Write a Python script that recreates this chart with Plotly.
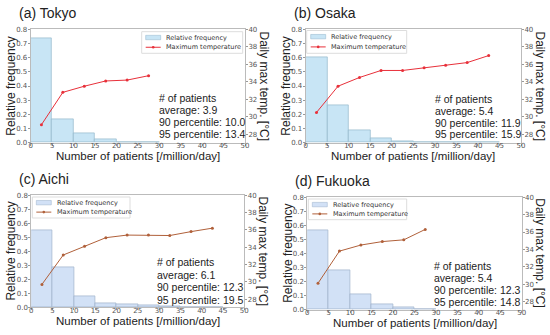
import plotly.graph_objects as go

bin_centers = [2.5, 7.5, 12.5, 17.5, 22.5, 27.5, 32.5, 37.5, 42.5]

tokyo_freq = [0.74, 0.165, 0.065, 0.025, 0.006, 0.003]
tokyo_temp = [29.1, 32.8, 33.5, 34.1, 34.2, 34.7]
osaka_freq = [0.60, 0.265, 0.085, 0.032, 0.013, 0.006, 0.002, 0.001, 0.001]
osaka_temp = [30.5, 33.5, 34.5, 35.3, 35.3, 35.6, 35.9, 36.2, 37.0]
aichi_freq = [0.55, 0.285, 0.08, 0.032, 0.022, 0.012, 0.004, 0.002, 0.001]
aichi_temp = [29.7, 33.1, 34.1, 35.1, 35.4, 35.4, 35.35, 35.8, 36.2]
fukuoka_freq = [0.565, 0.28, 0.11, 0.035, 0.015, 0.003]
fukuoka_temp = [30.1, 33.8, 34.5, 34.9, 35.1, 36.3]

titles = ["(a) Tokyo", "(b) Osaka", "(c) Aichi", "(d) Fukuoka"]
stats = [("3.9", "10.0", "13.4"), ("5.4", "11.9", "15.9"),
         ("6.1", "12.3", "19.5"), ("5.4", "12.3", "14.8")]
x_ticks = [0, 5, 10, 15, 20, 25, 30, 35, 40, 45, 50]
y_ticks = [0.0, 0.1, 0.2, 0.3, 0.4, 0.5, 0.6, 0.7, 0.8]
t_ticks = [28, 30, 32, 34, 36, 38, 40]

W, H = 550, 335


def px(x):
    return x / W


def py(y):
    return 1 - y / H


# plot areas in pixels: left, right, top, bottom
panels = [
    dict(freq=tokyo_freq, temp=tokyo_temp, box=(30.7, 245.0, 29.3, 142.7),
         bar="rgba(190,225,243,0.85)", barline="rgba(150,185,205,0.9)", line="#e8303a",
         leg=(141.7, 242.7, 31.7, 53.3), stat=(157, 97.7, 134.0)),
    dict(freq=osaka_freq, temp=osaka_temp, box=(305.7, 521.0, 29.3, 142.7),
         bar="rgba(190,225,243,0.85)", barline="rgba(150,185,205,0.9)", line="#e8303a",
         leg=(306.7, 406.7, 30.5, 53.3), stat=(433, 99.0, 134.3)),
    dict(freq=aichi_freq, temp=aichi_temp, box=(31.3, 244.3, 195.3, 307.3),
         bar="rgba(205,222,245,0.9)", barline="rgba(160,180,205,0.9)", line="#b0603a",
         leg=(32.3, 130.0, 197.0, 218.0), stat=(155, 262.3, 299.7)),
    dict(freq=fukuoka_freq, temp=fukuoka_temp, box=(307.3, 521.7, 197.3, 309.7),
         bar="rgba(205,222,245,0.9)", barline="rgba(160,180,205,0.9)", line="#b0603a",
         leg=(308.3, 406.7, 199.0, 219.7), stat=(432, 265.7, 302.3)),
]

fig = go.Figure()
layout = dict(width=W, height=H, margin=dict(l=0, r=0, t=0, b=0, autoexpand=False),
              plot_bgcolor="white", paper_bgcolor="white", showlegend=False,
              bargap=0, annotations=[], shapes=[])
tickfont = dict(family="DejaVu Sans", size=7, color="#555")
ytitlefont = dict(family="Liberation Sans", size=12, color="#222")
xtitlefont = dict(family="Liberation Sans", size=11.5, color="#222")

for i, p in enumerate(panels):
    n = i + 1
    xa = "x" if n == 1 else f"x{n}"
    ya = "y" if n == 1 else f"y{2*n-1}"
    ya2 = f"y{2*n}"
    L, R, T, B = p["box"]
    fig.add_trace(go.Bar(x=bin_centers[:len(p["freq"])], y=p["freq"], width=5,
                         marker=dict(color=p["bar"], line=dict(color=p["barline"], width=0.8)),
                         xaxis=xa, yaxis=ya, name="Relative frequency", hoverinfo="skip"))
    fig.add_trace(go.Scatter(x=bin_centers[:len(p["temp"])], y=p["temp"], mode="lines+markers",
                             line=dict(color=p["line"], width=1),
                             marker=dict(size=3, color=p["line"]),
                             xaxis=xa, yaxis=ya2, name="Maximum temperature", hoverinfo="skip"))
    xkey = "xaxis" if n == 1 else f"xaxis{n}"
    ykey = "yaxis" if n == 1 else f"yaxis{2*n-1}"
    y2key = f"yaxis{2*n}"
    common = dict(ticks="outside", ticklen=2, tickcolor="#999", tickfont=tickfont,
                  showgrid=False, zeroline=False, automargin=False)
    layout[xkey] = dict(domain=[px(L), px(R)], anchor=ya, range=[0, 50], tickvals=x_ticks,
                        ticklabelstandoff=-6,
                        showline=True, linecolor="#bbb", linewidth=1, mirror=True, **common)
    layout[ykey] = dict(domain=[py(B), py(T)], anchor=xa, range=[0, 0.8], tickvals=y_ticks,
                        ticktext=[f"{v:.1f}" for v in y_ticks], ticklabelstandoff=-1,
                        showline=True, linecolor="#bbb", linewidth=1, mirror=True, **common)
    layout[y2key] = dict(overlaying=ya, anchor=xa, side="right", range=[27.05, 40], tickvals=t_ticks,
                         ticklabelstandoff=-1, showline=False, **common)
    ann = layout["annotations"]
    # axis titles
    ann.append(dict(text="Number of patients [/million/day]", xref="paper", yref="paper",
                    x=px((L + R) / 2), y=py(B + 13.5), xanchor="center", yanchor="middle",
                    showarrow=False, font=xtitlefont))
    ann.append(dict(text="Relative frequency", xref="paper", yref="paper", textangle=-90,
                    x=px(L - 20), y=py((T + B) / 2), xanchor="center", yanchor="middle",
                    showarrow=False, font=ytitlefont))
    ann.append(dict(text="Daily max temp. [°C]", xref="paper", yref="paper", textangle=90,
                    x=px(R + 18.5), y=py((T + B) / 2), xanchor="center", yanchor="middle",
                    showarrow=False, font=ytitlefont))
    # panel title
    ann.append(dict(text=titles[i], xref="paper", yref="paper",
                    x=px(L - 14), y=py(T - 16), xanchor="left", yanchor="middle",
                    showarrow=False, font=dict(family="Liberation Sans", size=14, color="#222")))
    # stats text
    a, b, c = stats[i]
    sx, sy0, sy1 = p["stat"]
    lines = ["# of patients", f"average: {a}", f"90 percentile: {b}", f"95 percentile: {c}"]
    for k, t in enumerate(lines):
        yy = sy0 + (sy1 - sy0) * k / 3
        ann.append(dict(text=t, xref="paper", yref="paper", x=px(sx), y=py(yy),
                        xanchor="left", yanchor="middle", showarrow=False,
                        font=dict(family="Liberation Sans", size=10.5, color="#222")))
    # legend box
    lx0, lx1, ly0, ly1 = p["leg"]
    layout["shapes"].append(dict(type="rect", xref="paper", yref="paper",
                                 x0=px(lx0), x1=px(lx1), y0=py(ly1), y1=py(ly0),
                                 line=dict(color="#ddd", width=1), fillcolor="rgba(255,255,255,0.85)"))
    sx0 = lx0 + 4
    sx1 = lx0 + 19
    r1 = ly0 + (ly1 - ly0) * 0.27
    r2 = ly0 + (ly1 - ly0) * 0.72
    layout["shapes"].append(dict(type="rect", xref="paper", yref="paper", x0=px(sx0), x1=px(sx1),
                                 y0=py(r1 + 2.2), y1=py(r1 - 2.2),
                                 line=dict(color=p["barline"], width=0.6), fillcolor=p["bar"]))
    layout["shapes"].append(dict(type="line", xref="paper", yref="paper", x0=px(sx0), x1=px(sx1),
                                 y0=py(r2), y1=py(r2), line=dict(color=p["line"], width=1)))
    cx = (sx0 + sx1) / 2
    layout["shapes"].append(dict(type="circle", xref="paper", yref="paper",
                                 x0=px(cx - 1.3), x1=px(cx + 1.3), y0=py(r2 + 1.3), y1=py(r2 - 1.3),
                                 line=dict(color=p["line"], width=0), fillcolor=p["line"]))
    for txt, ry in (("Relative frequency", r1), ("Maximum temperature", r2)):
        ann.append(dict(text=txt, xref="paper", yref="paper", x=px(sx1 + 3.5), y=py(ry),
                        xanchor="left", yanchor="middle", showarrow=False,
                        font=dict(family="DejaVu Sans", size=6.5, color="#333")))

fig.update_layout(**layout)
fig.write_html("out.html", config={"displayModeBar": False},
               post_script="document.body.style.margin='0px';")
